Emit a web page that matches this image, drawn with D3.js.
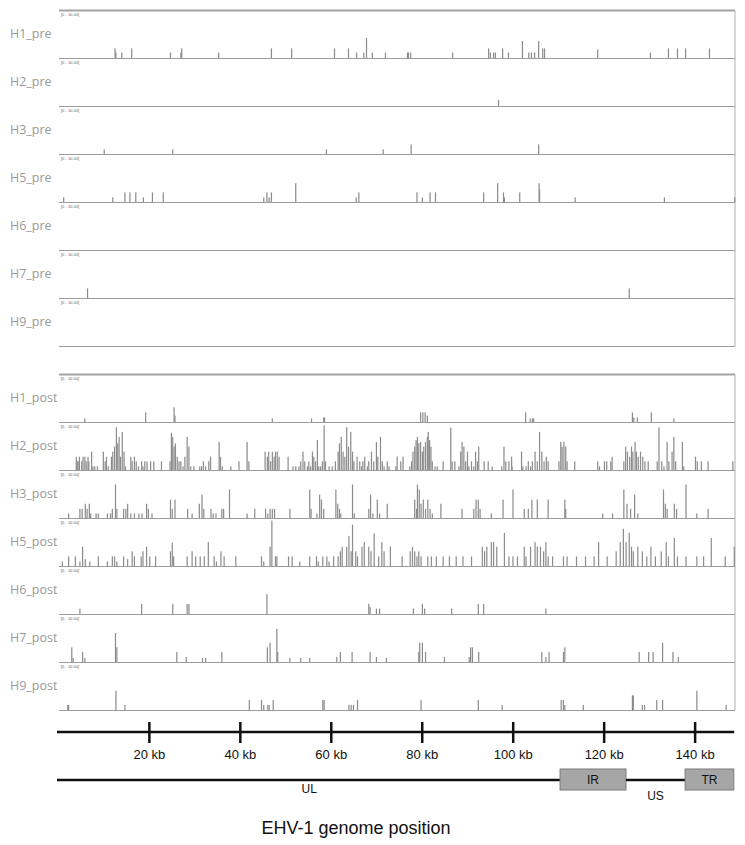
<!DOCTYPE html>
<meta charset="utf-8">
<style>
  body { margin: 0; background: #fff; }
  .trackLabel { font-family: "Open Sans", sans-serif; font-size: 12.5px; fill: #9a9a9a; }
  .range { font-family: "Liberation Sans", sans-serif; font-size: 4px; fill: #666; }
  .tickLabel { font-family: "Liberation Sans", Arial, sans-serif; font-size: 13px; fill: #111; text-anchor: middle; }
  .regionLabel { font-family: "Liberation Sans", Arial, sans-serif; font-size: 12px; fill: #111; text-anchor: middle; }
  .title { font-family: "Liberation Sans", Arial, sans-serif; font-size: 18px; fill: #111; text-anchor: middle; }
</style>
<svg width="745" height="845"></svg>
<script src="https://d3js.org/d3.v7.min.js"></script>
<script>

// coverage per sample: [position (kb), depth on 0-10 scale]
var h1Pre = [[12.3,2.2],[12.5,1.3],[13.8,1.3],[16.0,2.2],[24.6,1.3],[26.9,1.3],[27.1,2.2],[35.3,1.3],[47.0,2.2],[51.5,2.2],[61.0,2.2],[64.1,2.2],[65.9,1.3],[67.5,1.3],[68.1,4.5],[69.4,1.3],[72.3,1.3],[77.2,1.3],[77.4,1.3],[77.9,1.3],[87.2,1.3],[95.2,2.2],[95.6,1.3],[96.3,1.3],[96.7,1.3],[98.3,2.2],[99.6,1.3],[102.7,3.8],[104.1,1.3],[104.7,1.3],[105.4,1.3],[106.3,3.8],[107.2,2.2],[107.6,2.2],[119.4,2.0],[131.1,1.3],[135.1,2.2],[137.1,2.2],[138.9,2.2],[144.2,2.2]];
var h2Pre = [[97.4,1.4]];
var h3Pre = [[9.9,1.1],[25.1,1.1],[59.2,1.1],[71.8,1.1],[78.0,2.2],[106.3,2.2]];
var h5Pre = [[0.9,1.1],[11.8,1.1],[14.5,2.2],[15.6,2.2],[16.9,2.2],[18.6,1.1],[20.6,2.2],[23.0,2.2],[45.3,1.1],[46.0,2.2],[46.5,1.1],[47.0,2.2],[52.4,4.2],[65.8,1.1],[66.4,2.2],[79.3,2.2],[80.5,1.1],[82.2,2.2],[83.4,2.2],[94.1,2.2],[97.2,4.2],[98.5,2.2],[98.7,1.1],[102.1,2.2],[106.4,4.2],[106.5,2.9],[114.4,1.1],[134.2,1.1],[149.8,1.1]];
var h6Pre = [];
var h7Pre = [[6.2,2.2],[126.4,2.2]];
var h9Pre = [];

var h1Post = [[5.6,0.9],[19.1,2.2],[25.4,3.3],[25.6,1.5],[47.2,0.9],[55.9,0.9],[58.6,1.1],[58.8,1.1],[80.1,2.2],[80.6,2.2],[81.1,2.2],[81.6,1.5],[103.4,2.2],[104.4,0.9],[104.9,0.9],[105.2,0.9],[127.1,2.2],[127.4,1.1],[128.2,1.1],[131.3,2.2],[136.3,0.9]];
var h2Post = [[3.7,3.0],[3.9,2.0],[4.1,2.0],[4.4,3.0],[4.9,2.0],[5.2,3.0],[5.6,3.0],[5.9,2.0],[6.3,3.0],[6.5,2.0],[7.1,4.1],[7.4,0.9],[7.8,0.9],[8.4,0.9],[9.7,4.1],[10.1,2.0],[10.4,3.0],[10.8,0.9],[11.5,3.0],[11.8,4.1],[12.2,5.2],[12.6,9.4],[12.9,5.9],[13.2,7.3],[13.5,3.0],[13.9,8.4],[14.3,4.1],[14.6,0.9],[15.8,3.0],[16.1,2.0],[16.6,3.0],[17.0,2.0],[17.5,0.9],[18.2,2.0],[18.5,0.9],[18.9,2.0],[19.4,2.0],[20.2,2.0],[20.9,2.0],[22.6,2.0],[24.5,2.0],[24.8,8.2],[25.1,7.3],[25.4,5.2],[25.7,5.9],[26.1,3.0],[26.5,2.0],[26.9,2.0],[27.4,0.9],[27.8,3.0],[28.3,7.3],[28.7,5.2],[29.1,0.9],[29.8,0.9],[31.1,0.9],[31.5,0.9],[31.9,2.0],[32.4,0.9],[33.1,2.0],[33.5,3.0],[35.4,6.2],[35.7,3.0],[36.1,0.9],[38.0,0.9],[39.8,2.0],[41.6,6.2],[42.0,2.0],[45.6,4.1],[46.1,3.0],[46.4,4.1],[46.8,2.0],[47.2,4.1],[47.6,3.0],[47.9,4.1],[48.3,4.1],[48.7,3.0],[50.7,3.0],[51.8,0.9],[52.4,0.9],[53.1,0.9],[53.5,2.0],[54.0,4.1],[54.4,2.0],[55.0,0.9],[55.3,2.0],[55.7,0.9],[56.1,4.1],[56.4,3.0],[56.8,2.0],[57.2,6.6],[57.5,0.9],[57.9,0.9],[58.3,2.0],[58.7,9.8],[59.0,2.0],[59.8,0.9],[60.5,0.9],[61.2,2.0],[61.8,4.1],[62.1,5.9],[62.5,7.3],[62.9,4.1],[63.3,3.0],[63.7,9.4],[64.1,5.2],[64.6,8.4],[65.0,4.1],[65.3,2.0],[66.0,3.0],[66.6,2.0],[67.0,0.9],[67.3,2.0],[67.7,3.0],[68.3,0.9],[68.6,2.0],[69.2,4.1],[69.7,2.0],[70.3,6.2],[70.6,3.0],[71.2,7.3],[71.6,2.0],[72.0,0.9],[72.7,2.0],[73.1,0.9],[74.6,0.9],[74.9,3.0],[75.7,2.0],[76.2,3.0],[77.7,0.9],[78.1,2.0],[78.4,4.1],[78.8,5.2],[79.1,6.6],[79.4,7.3],[79.7,5.9],[80.1,6.2],[80.5,4.1],[80.8,5.2],[81.2,6.2],[81.6,7.3],[81.8,8.4],[82.1,6.6],[82.4,5.2],[82.7,2.0],[83.3,0.9],[83.8,0.9],[85.1,2.0],[86.8,9.3],[87.1,2.0],[87.7,2.0],[88.6,0.9],[89.0,4.1],[89.3,6.2],[89.7,5.2],[90.1,2.0],[90.5,4.1],[90.8,0.9],[91.4,2.0],[91.9,0.9],[92.3,4.1],[92.7,2.0],[93.0,5.2],[94.2,2.0],[95.1,2.0],[96.0,0.9],[98.1,0.9],[98.6,5.2],[99.0,2.0],[99.7,2.0],[100.3,3.0],[100.4,0.9],[102.5,4.1],[102.8,0.9],[103.5,0.9],[104.0,2.0],[104.5,0.9],[104.9,2.0],[105.5,4.1],[106.0,2.0],[106.5,8.4],[107.0,4.1],[107.5,2.0],[108.0,3.0],[108.4,2.0],[110.8,2.0],[111.2,6.2],[111.5,5.2],[111.9,6.2],[112.3,5.2],[112.6,2.0],[114.3,2.0],[119.4,2.0],[119.8,0.9],[120.9,2.0],[121.4,2.0],[122.3,2.0],[122.6,3.0],[125.2,2.0],[125.6,5.2],[126.0,4.1],[126.5,3.0],[126.9,5.2],[127.2,4.1],[127.7,6.2],[128.0,4.1],[128.4,3.0],[128.9,4.1],[129.4,3.0],[129.9,2.0],[130.6,2.0],[132.6,2.0],[133.0,9.4],[133.6,2.0],[134.1,0.9],[134.8,6.2],[135.2,2.0],[135.9,4.1],[136.3,7.3],[136.7,2.0],[138.2,6.2],[138.5,0.9],[141.1,3.0],[141.5,2.0],[142.4,2.0],[143.9,2.0],[149.4,2.0]];
var h3Post = [[2.0,1.1],[4.5,2.1],[5.0,2.1],[5.7,3.2],[6.1,2.1],[6.6,3.2],[6.9,1.1],[8.1,1.1],[8.6,1.1],[10.6,1.1],[11.3,1.1],[11.7,2.1],[12.4,7.4],[12.7,2.1],[14.2,2.1],[14.7,2.1],[15.1,3.2],[15.8,1.1],[16.6,1.1],[17.6,1.1],[18.3,1.1],[19.3,3.2],[19.7,2.1],[20.5,1.1],[24.6,4.1],[25.0,2.1],[25.6,4.1],[28.4,2.1],[29.4,1.1],[31.0,3.2],[31.6,5.2],[32.0,2.1],[33.6,2.1],[34.1,1.1],[34.7,1.1],[36.0,2.1],[36.4,2.1],[37.7,6.3],[41.6,1.1],[43.3,2.1],[45.7,2.1],[46.2,1.1],[46.7,2.1],[47.2,2.1],[47.7,2.1],[51.1,2.1],[55.5,6.3],[55.8,2.1],[57.1,1.1],[57.7,5.2],[58.1,4.1],[58.6,2.1],[61.3,6.3],[61.7,3.2],[62.1,2.1],[62.4,1.1],[65.0,7.4],[65.4,1.1],[68.6,2.1],[69.0,5.2],[69.5,1.1],[70.5,4.1],[71.0,1.1],[72.7,3.2],[78.8,4.1],[79.2,2.1],[79.4,7.4],[79.8,6.3],[80.2,3.2],[80.7,4.1],[81.2,2.1],[81.7,4.1],[82.2,2.1],[82.7,1.1],[84.6,3.2],[89.3,2.1],[91.9,2.1],[92.4,4.1],[92.9,4.1],[93.3,2.1],[95.8,1.1],[98.4,4.1],[100.6,6.3],[103.1,2.1],[104.0,2.1],[104.8,4.1],[106.0,4.1],[108.4,4.1],[112.1,4.1],[112.3,2.1],[120.5,1.1],[122.7,1.1],[125.2,6.3],[125.9,3.2],[126.7,2.1],[127.6,5.2],[128.3,1.1],[134.0,6.3],[134.4,3.2],[134.8,2.1],[136.4,3.2],[136.9,2.1],[139.0,7.4],[141.4,1.1],[143.9,2.1]];
var h5Post = [[0.6,1.1],[2.0,2.2],[3.5,2.2],[4.5,1.1],[5.1,4.3],[5.7,1.6],[6.7,1.1],[8.6,2.2],[10.6,1.1],[11.7,2.2],[12.2,2.2],[12.7,1.1],[14.2,2.2],[15.1,1.6],[16.1,3.3],[16.6,2.2],[18.1,2.2],[18.5,3.3],[19.3,4.3],[20.0,2.2],[21.3,2.2],[24.6,3.3],[25.0,5.2],[25.3,2.2],[28.3,2.2],[29.4,3.3],[30.2,2.2],[31.2,2.2],[32.1,2.2],[33.0,5.3],[34.3,2.2],[34.8,1.1],[35.8,3.3],[36.5,2.2],[39.1,2.2],[44.8,2.2],[45.3,1.1],[46.7,4.3],[47.1,10.0],[47.9,2.2],[48.2,2.2],[50.8,2.2],[51.6,2.2],[53.3,1.1],[55.5,2.2],[57.0,2.2],[57.4,1.1],[58.4,2.2],[59.3,2.2],[59.8,1.1],[60.8,2.2],[61.8,2.2],[62.3,3.3],[62.7,4.3],[63.7,4.3],[64.2,6.6],[64.7,3.3],[65.0,9.1],[65.7,3.3],[66.1,2.2],[67.1,4.3],[67.6,5.3],[68.6,4.3],[69.1,3.3],[69.8,7.2],[70.8,2.2],[71.5,5.3],[72.0,3.3],[73.4,4.3],[76.0,2.2],[77.8,3.3],[78.3,4.3],[78.8,3.3],[79.3,2.2],[79.7,3.3],[80.2,2.2],[81.7,2.2],[82.5,2.2],[83.6,2.2],[85.1,2.2],[86.5,2.2],[88.0,2.2],[89.5,2.2],[91.4,2.2],[93.8,4.3],[94.3,3.3],[94.8,4.3],[95.8,5.3],[96.3,5.3],[97.0,4.3],[98.7,7.3],[99.7,2.2],[100.6,2.2],[101.6,2.2],[103.1,4.3],[103.5,2.2],[104.5,4.3],[105.5,5.3],[106.0,4.3],[106.7,4.3],[107.4,3.3],[107.9,5.3],[108.4,2.2],[109.4,2.2],[111.8,2.2],[112.6,2.2],[114.7,2.2],[116.7,2.2],[118.6,2.2],[119.6,5.3],[121.5,2.2],[123.5,3.3],[124.4,5.3],[125.1,8.2],[125.7,5.3],[126.4,7.3],[126.9,4.3],[127.3,3.3],[128.3,4.3],[129.3,3.3],[130.3,2.2],[131.2,4.3],[132.2,2.2],[133.5,3.3],[134.6,5.3],[135.1,2.2],[136.4,6.2],[137.1,2.2],[139.0,2.2],[141.4,2.2],[142.9,2.2],[144.6,6.2],[147.7,2.2],[149.7,4.3]];
var h6Post = [[4.5,1.3],[18.2,2.3],[25.1,2.3],[28.3,2.3],[28.7,2.3],[46.0,4.4],[68.6,2.3],[68.9,1.6],[70.3,1.3],[71.0,1.3],[78.5,1.3],[80.5,2.3],[81.0,1.3],[87.0,1.3],[92.9,2.3],[94.1,2.3],[107.9,1.3]];
var h7Post = [[2.7,3.3],[3.0,1.0],[5.1,2.3],[5.6,1.0],[12.4,6.4],[12.7,3.3],[26.0,2.3],[28.1,1.2],[31.7,1.0],[32.4,1.0],[36.0,2.3],[46.1,3.3],[46.7,4.3],[48.2,7.3],[48.4,2.3],[51.1,1.0],[53.5,1.0],[55.5,1.0],[61.5,1.2],[62.3,2.3],[64.9,2.3],[68.9,2.3],[70.3,1.2],[72.5,1.0],[79.7,2.3],[79.9,4.3],[80.5,4.3],[81.2,2.3],[85.4,1.2],[90.9,1.2],[91.2,3.3],[91.6,3.3],[93.0,2.3],[107.0,2.3],[107.9,1.2],[108.6,2.3],[111.8,2.3],[112.1,3.3],[128.6,2.3],[130.7,2.3],[131.7,2.3],[133.8,4.3],[136.1,2.3],[137.3,1.2]];
var h9Post = [[1.8,1.2],[2.0,1.2],[12.5,4.3],[14.5,1.2],[42.1,2.3],[44.8,2.3],[45.3,1.2],[46.2,1.2],[46.5,1.2],[47.4,2.3],[58.4,2.3],[58.7,2.3],[64.2,1.2],[64.7,1.2],[65.2,1.2],[66.1,2.3],[80.2,2.3],[92.9,2.3],[98.2,1.2],[111.3,2.3],[111.8,2.3],[112.1,1.2],[116.2,1.2],[127.1,3.3],[127.3,3.3],[129.3,1.2],[129.8,1.2],[132.5,2.3],[133.8,2.3],[141.4,4.3],[147.9,1.2]];

var preNames = ['H1_pre', 'H2_pre', 'H3_pre', 'H5_pre', 'H6_pre', 'H7_pre', 'H9_pre'];
var preData = [h1Pre, h2Pre, h3Pre, h5Pre, h6Pre, h7Pre, h9Pre];
var postNames = ['H1_post', 'H2_post', 'H3_post', 'H5_post', 'H6_post', 'H7_post', 'H9_post'];
var postData = [h1Post, h2Post, h3Post, h5Post, h6Post, h7Post, h9Post];

// genome axis
var tickKb = [20, 40, 60, 80, 100, 120, 140];
var regionNames = ['UL', 'IR', 'US', 'TR'];
var regionStart = [0, 110.3, 124.8, 137.8];
var regionEnd = [110.3, 124.8, 137.8, 148.5];
var regionIsBox = [false, true, false, true];

var svg = d3.select('svg');
var trackH = 48;

var x = d3.scaleLinear().domain([0, 150]).range([59, 735]);
var y = d3.scaleLinear().domain([0, 10]).range([trackH, 2]);
var xAxis = d3.scaleLinear().domain([0, 150]).range([58.4, 740.6]);

function panel(top, names, data) {
  var g = svg.append('g').attr('transform', 'translate(0,' + top + ')');
  var n = names.length;

  g.append('line')
    .attr('x1', x(0)).attr('x2', x(150)).attr('y1', 0).attr('y2', 0)
    .attr('stroke', '#a3a3a3').attr('stroke-width', 2);
  g.append('line')
    .attr('x1', x(150)).attr('x2', x(150)).attr('y1', 0).attr('y2', n * trackH)
    .attr('stroke', '#b0b0b0').attr('stroke-width', 1);

  names.forEach(function(name, i) {
    var t = g.append('g').attr('transform', 'translate(0,' + (i * trackH) + ')');
    t.append('text').attr('class', 'trackLabel')
      .attr('x', 10).attr('y', 23).attr('dy', '0.35em').text(name);
    t.append('text').attr('class', 'range')
      .attr('x', x(0) + 2).attr('y', 5).text('[0 - 10.00]');
    t.selectAll('rect')
      .data(data[i])
      .enter().append('rect')
        .attr('x', function(d) { return x(d[0]); })
        .attr('width', function(d) { return x(d[0] + 0.27) - x(d[0]); })
        .attr('y', function(d) { return y(d[1]); })
        .attr('height', function(d) { return y(0) - y(d[1]); })
        .attr('fill', '#8c8c8c');
    t.append('line')
      .attr('x1', x(0)).attr('x2', x(150)).attr('y1', trackH).attr('y2', trackH)
      .attr('stroke', '#9c9c9c').attr('stroke-width', 1);
  });
}

panel(10.5, preNames, preData);
panel(374.5, postNames, postData);

// genome position axis
var axisY = 732;
svg.append('line')
  .attr('x1', 57).attr('x2', xAxis(148.6)).attr('y1', axisY).attr('y2', axisY)
  .attr('stroke', '#111').attr('stroke-width', 2.5);
svg.selectAll('.tick')
  .data(tickKb)
  .enter().append('line')
    .attr('class', 'tick')
    .attr('x1', function(d) { return xAxis(d); }).attr('x2', function(d) { return xAxis(d); })
    .attr('y1', axisY - 10).attr('y2', axisY + 11)
    .attr('stroke', '#111').attr('stroke-width', 2.5);
svg.selectAll('.tickLabel')
  .data(tickKb)
  .enter().append('text')
    .attr('class', 'tickLabel')
    .attr('x', function(d) { return xAxis(d); })
    .attr('y', 759)
    .text(function(d) { return d + ' kb'; });

// genome map
var mapY = 780;
var regions = regionNames.map(function(name, i) {
  return { name: name, start: regionStart[i], end: regionEnd[i], box: regionIsBox[i] };
});
regions.forEach(function(r) {
  var x0 = r.start === 0 ? 57 : xAxis(r.start);
  var x1 = xAxis(r.end);
  var cx = (xAxis(r.start) + x1) / 2;
  if (r.box) {
    svg.append('rect')
      .attr('x', x0).attr('y', mapY - 11).attr('width', x1 - x0).attr('height', 21)
      .attr('fill', '#a6a6a6').attr('stroke', '#7a7a7a').attr('stroke-width', 1);
    svg.append('text').attr('class', 'regionLabel')
      .attr('x', cx).attr('y', mapY).attr('dy', '0.35em').text(r.name);
  } else {
    svg.append('line')
      .attr('x1', x0).attr('x2', x1).attr('y1', mapY).attr('y2', mapY)
      .attr('stroke', '#111').attr('stroke-width', 2.5);
    svg.append('text').attr('class', 'regionLabel')
      .attr('x', cx).attr('y', r.name === 'UL' ? 793 : 800).text(r.name);
  }
});

svg.append('text').attr('class', 'title')
  .attr('x', 356).attr('y', 834)
  .text('EHV-1 genome position');

</script>
